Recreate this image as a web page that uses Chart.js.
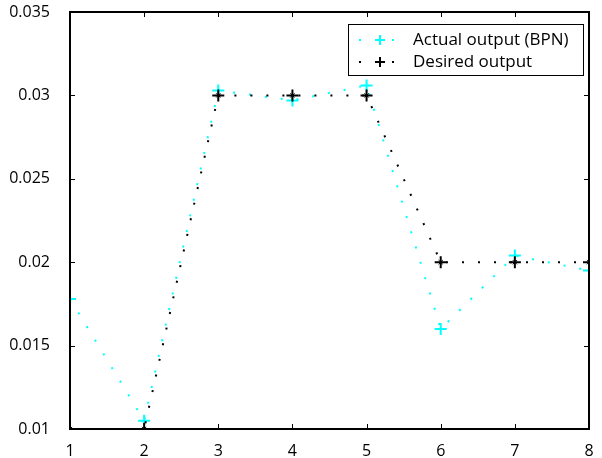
<!DOCTYPE html>
<html><head><meta charset="utf-8">
<script src="https://cdn.jsdelivr.net/npm/chart.js@4.4.0/dist/chart.umd.min.js"></script>
<style>html,body{margin:0;padding:0;background:#fff}#wrap{width:602px;height:458px}</style>
</head><body><div id="wrap"><canvas id="c" width="602" height="458"></canvas></div>
<script>
const xValues = [1, 2, 3, 4, 5, 6, 7, 8];
const actualOutput = [0.0178, 0.0105, 0.0303, 0.0297, 0.0306, 0.0160, 0.0204, 0.0195];
const desiredOutput = [0.01, 0.01, 0.03, 0.03, 0.03, 0.02, 0.02, 0.02];
const xTicks = [1, 2, 3, 4, 5, 6, 7, 8];
const yTicks = [0.01, 0.015, 0.02, 0.025, 0.03, 0.035];
const seriesLabels = ['Actual output (BPN)', 'Desired output'];

const FONT = '"Open Sans", "Noto Sans", sans-serif';
const pts = arr => arr.map((v, i) => ({x: xValues[i], y: v}));

const boxPlugin = {
  id: 'box',
  afterDraw(chart) {
    const {ctx, chartArea: a, scales} = chart;
    ctx.save();
    ctx.strokeStyle = '#000';
    ctx.lineWidth = 1;
    ctx.beginPath();
    xTicks.forEach(t => {
      const px = Math.round(scales.x.getPixelForValue(t)) + 0.5;
      ctx.moveTo(px, a.bottom); ctx.lineTo(px, a.bottom - 5);
      ctx.moveTo(px, a.top); ctx.lineTo(px, a.top + 5);
    });
    yTicks.forEach(t => {
      const py = Math.round(scales.y.getPixelForValue(t)) + 0.5;
      ctx.moveTo(a.left, py); ctx.lineTo(a.left + 5, py);
      ctx.moveTo(a.right, py); ctx.lineTo(a.right - 5, py);
    });
    ctx.stroke();
    ctx.lineWidth = 2;
    ctx.strokeRect(a.left, a.top, a.right - a.left, a.bottom - a.top);
    // legend
    const lx = 348, ly = 24, lw = 235, lh = 51;
    ctx.fillStyle = '#fff';
    ctx.fillRect(lx, ly, lw, lh);
    ctx.lineWidth = 1;
    ctx.strokeStyle = '#000';
    ctx.strokeRect(lx + 0.5, ly + 0.5, lw, lh);
    const colors = ['#00ffff', '#000000'];
    [40, 62].forEach((yy, i) => {
      ctx.fillStyle = colors[i];
      ctx.fillRect(359, yy - 1, 2, 2);
      ctx.fillRect(392, yy - 1, 2, 2);
      ctx.strokeStyle = colors[i];
      ctx.lineWidth = 2;
      ctx.beginPath();
      ctx.moveTo(375, yy); ctx.lineTo(385, yy);
      ctx.moveTo(380, yy - 5); ctx.lineTo(380, yy + 5);
      ctx.stroke();
      ctx.fillStyle = '#000';
      ctx.font = '17px ' + FONT;
      ctx.textBaseline = 'middle';
      ctx.textAlign = 'left';
      ctx.fillText(seriesLabels[i], 413, yy);
    });
    ctx.restore();
  }
};

new Chart(document.getElementById('c'), {
  type: 'scatter',
  data: {
    datasets: [
      {
        label: seriesLabels[0],
        data: pts(actualOutput),
        showLine: true,
        borderColor: '#00ffff',
        borderWidth: 2,
        borderDash: [2, 14],
        pointStyle: 'cross',
        pointRadius: 6,
        pointBorderWidth: 2,
        pointBorderColor: '#00ffff',
        pointBackgroundColor: '#00ffff',
        order: 2
      },
      {
        label: seriesLabels[1],
        data: pts(desiredOutput),
        showLine: true,
        borderColor: '#000',
        borderWidth: 2,
        borderDash: [2, 14],
        pointStyle: 'cross',
        pointRadius: 6,
        pointBorderWidth: 2,
        pointBorderColor: '#000',
        order: 1
      },
      {
        label: 'marks',
        data: pts(desiredOutput),
        showLine: false,
        pointStyle: 'crossRot',
        pointRadius: 3,
        pointBorderWidth: 1,
        pointBorderColor: '#000',
        order: 0
      }
    ]
  },
  options: {
    responsive: false,
    animation: false,
    devicePixelRatio: 1,
    layout: {padding: {top: 12, right: 13, left: 0, bottom: 0}},
    plugins: {legend: {display: false}, tooltip: {enabled: false}},
    scales: {
      x: {
        type: 'linear', min: 1, max: 8,
        afterBuildTicks: s => { s.ticks = xTicks.map(v => ({value: v})); },
        afterFit: s => { s.height = 29; s.paddingLeft = 0; s.paddingRight = 0; },
        grid: {display: false},
        border: {display: false},
        ticks: {color: '#000', font: {family: FONT, size: 16}, padding: 5, maxRotation: 0,
          callback: v => String(v)}
      },
      y: {
        type: 'linear', min: 0.01, max: 0.035,
        afterBuildTicks: s => { s.ticks = yTicks.map(v => ({value: v})); },
        afterFit: s => { s.width = 70; s.paddingTop = 0; s.paddingBottom = 0; },
        grid: {display: false},
        border: {display: false},
        ticks: {color: '#000', font: {family: FONT, size: 16}, padding: 12,
          callback: v => String(+v.toFixed(3))}
      }
    }
  },
  plugins: [boxPlugin]
});
</script></body></html>
